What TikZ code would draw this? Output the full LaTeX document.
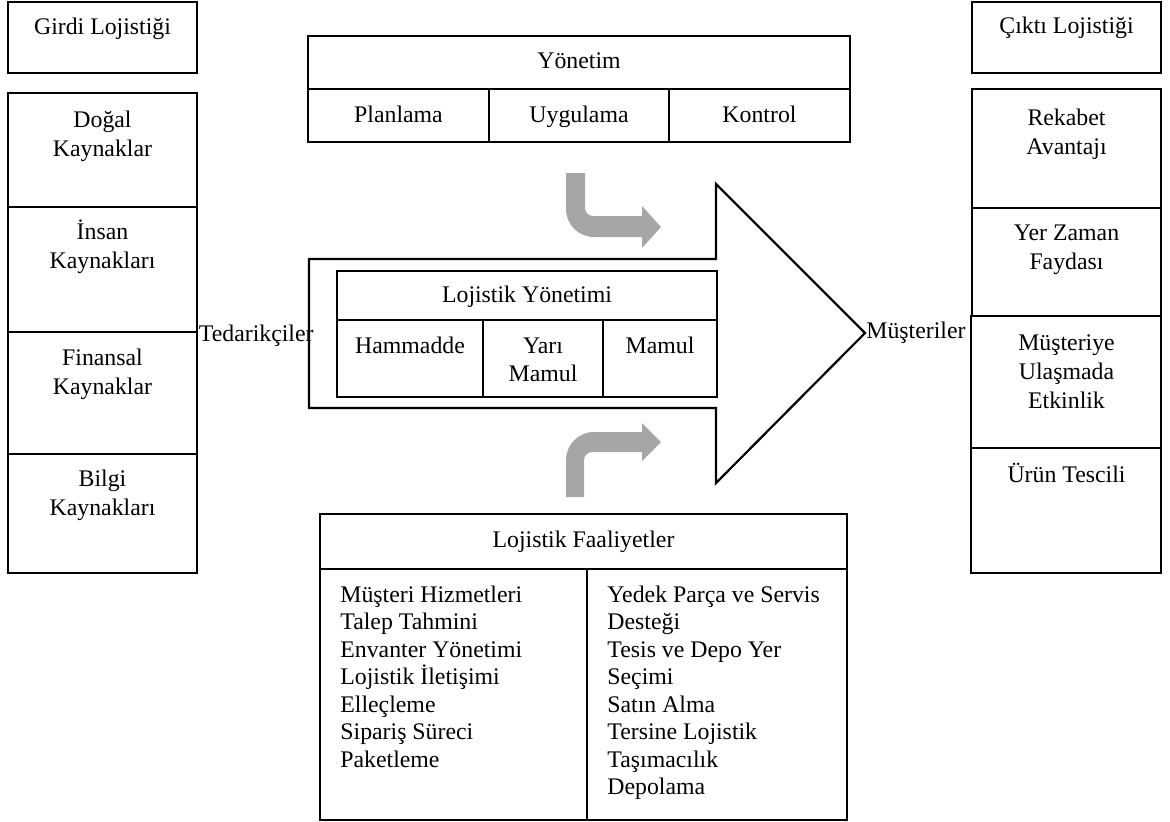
\documentclass[tikz,border=0pt]{standalone}
\usepackage{fontspec}
\setmainfont{Liberation Serif}
\definecolor{arrowgray}{RGB}{166,166,166}
\begin{document}
\begin{tikzpicture}[x=0.5pt,y=-0.5pt,
  thin box/.style={draw=black,line width=0.6pt},
  thick box/.style={draw=black,line width=1.1pt},
  lbl/.style={font=\fontsize{11.9pt}{14.5pt}\selectfont,inner sep=0pt,align=center,anchor=base},
  lst/.style={font=\fontsize{11.9pt}{13.75pt}\selectfont,inner sep=0pt,align=left,anchor=base west},
  grayarrow/.style={fill=arrowgray,draw=none}]
\useasboundingbox (0,0) rectangle (1170,821);

% Girdi / Cikti headers
\draw[thin box] (8,2) rectangle (197,73);
\node[lbl] (girdi) at (102.5,34) {Girdi Lojistiği};
\draw[thin box] (972,2) rectangle (1161,73);
\node[lbl] (cikti) at (1066.5,33) {Çıktı Lojistiği};

% Left column
\draw[thin box] (8,207) -- (197,207);
\draw[thin box] (8,332) -- (197,332);
\draw[thin box] (8,454) -- (197,454);
\draw[thick box] (8,93) rectangle (197,573);
\node[lbl] (dogal) at (102.5,156) {Doğal\\Kaynaklar};
\node[lbl] (insan) at (102.5,268) {İnsan\\Kaynakları};
\node[lbl] (finans) at (102.5,394) {Finansal\\Kaynaklar};
\node[lbl] (bilgi) at (102.5,515) {Bilgi\\Kaynakları};

% Right column
\draw[thin box] (971,316) rectangle (1161,573);
\draw[thin box] (971,448) -- (1161,448);
\draw[thick box] (972,89) rectangle (1161,316);
\draw[thin box] (972,208) -- (1161,208);
\node[lbl] (rekabet) at (1066.5,154) {Rekabet\\Avantajı};
\node[lbl] (yerzaman) at (1066.5,269) {Yer Zaman\\Faydası};
\node[lbl] (musteriye) at (1066.5,408) {Müşteriye\\Ulaşmada\\Etkinlik};
\node[lbl] (urun) at (1066.5,482) {Ürün Tescili};

% Yonetim box
\draw[thick box] (308,36) rectangle (850,142);
\draw[thick box] (308,89) -- (850,89);
\draw[thick box] (489,89) -- (489,142);
\draw[thick box] (669,89) -- (669,142);
\node[lbl] (yonetim) at (579,68) {Yönetim};
\node[lbl] (planlama) at (398.5,122) {Planlama};
\node[lbl] (uygulama) at (579,122) {Uygulama};
\node[lbl] (kontrol) at (759.5,122) {Kontrol};

% Gray bent arrows
\fill[grayarrow] (566,173) -- (566,209) .. controls (566,224.5) and (578.5,237) .. (594,237)
  -- (642,237) -- (642,248) -- (661,227) -- (642,206) -- (642,216) -- (593,216)
  .. controls (588.6,216) and (585,212.4) .. (585,208) -- (585,173) -- cycle;
\fill[grayarrow] (566,497) -- (566,460) .. controls (566,444.5) and (578.5,432) .. (594,432)
  -- (642,432) -- (642,423) -- (661,442) -- (642,461) -- (642,452) -- (592,452)
  .. controls (587.6,452) and (584,455.6) .. (584,460) -- (584,497) -- cycle;

% Big arrow
\draw[thick box,line join=miter] (309,259) -- (716,259) -- (716,184) -- (865,333)
  -- (716,483) -- (716,408) -- (309,408) -- cycle;

% Lojistik Yonetimi box
\draw[thick box] (337,271) rectangle (717,397);
\draw[thick box] (337,320) -- (717,320);
\draw[thick box] (483,320) -- (483,397);
\draw[thick box] (603,320) -- (603,397);
\node[lbl] (lojyon) at (527,302) {Lojistik Yönetimi};
\node[lbl] (hammadde) at (410,353) {Hammadde};
\node[lbl,font=\fontsize{11.9pt}{14pt}\selectfont] (yarimamul) at (543,381) {Yarı\\Mamul};
\node[lbl] (mamul) at (660,353) {Mamul};

% Side labels
\node[lbl,anchor=base west] (tedarik) at (198.5,341) {Tedarikçiler};
\node[lbl,anchor=base west] (musteriler) at (866,338) {Müşteriler};

% Lojistik Faaliyetler
\draw[thin box] (320,514) rectangle (847,820);
\draw[thin box] (320,569) -- (847,569);
\draw[thin box] (587,569) -- (587,820);
\node[lbl] (faaliyet) at (583.5,547) {Lojistik Faaliyetler};
\node[lst] (solliste) at (340,767) {Müşteri Hizmetleri\\Talep Tahmini\\Envanter Yönetimi\\Lojistik İletişimi\\Elleçleme\\Sipariş Süreci\\Paketleme};
\node[lst] (sagliste) at (607,794.5) {Yedek Parça ve Servis\\Desteği\\Tesis ve Depo Yer\\Seçimi\\Satın Alma\\Tersine Lojistik\\Taşımacılık\\Depolama};
\end{tikzpicture}
\end{document}
